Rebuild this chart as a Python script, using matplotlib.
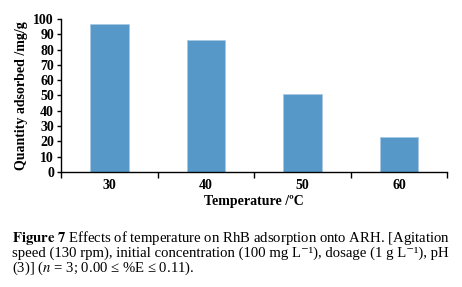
import matplotlib
matplotlib.use('Agg')
import matplotlib.pyplot as plt
import numpy as np

plt.rcParams['font.family'] = ['Liberation Serif', 'DejaVu Serif']
plt.rcParams['mathtext.fontset'] = 'stix'

# data
temps = ['30', '40', '50', '60']
adsorbed = [97, 86, 51, 23]
y_ticks = [0, 10, 20, 30, 40, 50, 60, 70, 80, 90, 100]

fig = plt.figure(figsize=(4.62, 2.87), dpi=100)
ax = fig.add_axes([0.132, 0.401, 0.836, 0.533])

x = np.arange(len(temps))
ax.bar(x, adsorbed, width=0.4, color='#5699c8', edgecolor='#a9c9e4', linewidth=0.6)

ax.set_xlim(-0.5, len(temps) - 0.5)
ax.set_ylim(0, 100)
ax.set_yticks(y_ticks)
ax.set_xticks(x)
ax.set_xticklabels(temps)
ax.set_xticks(np.arange(len(temps) + 1) - 0.5, minor=True)
ax.tick_params(axis='x', which='major', length=0, pad=5)
ax.tick_params(axis='x', which='minor', length=4, width=1, direction='out')
ax.tick_params(axis='y', length=3, width=1, direction='out', pad=2)
for lab in ax.get_xticklabels() + ax.get_yticklabels():
    lab.set_fontweight('bold')
    lab.set_fontsize(10)

ax.spines['top'].set_visible(False)
ax.spines['right'].set_visible(False)
ax.spines['left'].set_linewidth(1)
ax.spines['bottom'].set_linewidth(1)

ax.set_ylabel('Quantity adsorbed /mg/g', fontsize=10, fontweight='bold', labelpad=4)
ax.set_xlabel('Temperature /ºC', fontsize=10, fontweight='bold', labelpad=2)

# caption
cap = [r"$\mathbf{Figure\ 7}$ Effects of temperature on RhB adsorption onto ARH. [Agitation",
       "speed (130 rpm), initial concentration (100 mg L⁻¹), dosage (1 g L⁻¹), pH",
       r"(3)] ($n$ = 3; 0.00 ≤ %E ≤ 0.11)."]
for i, line in enumerate(cap):
    fig.text(12 / 462, 1 - (238 + 15 * i) / 287, line, fontsize=10.6,
             ha='left', va='center')

fig.savefig('out.png', dpi=100)
